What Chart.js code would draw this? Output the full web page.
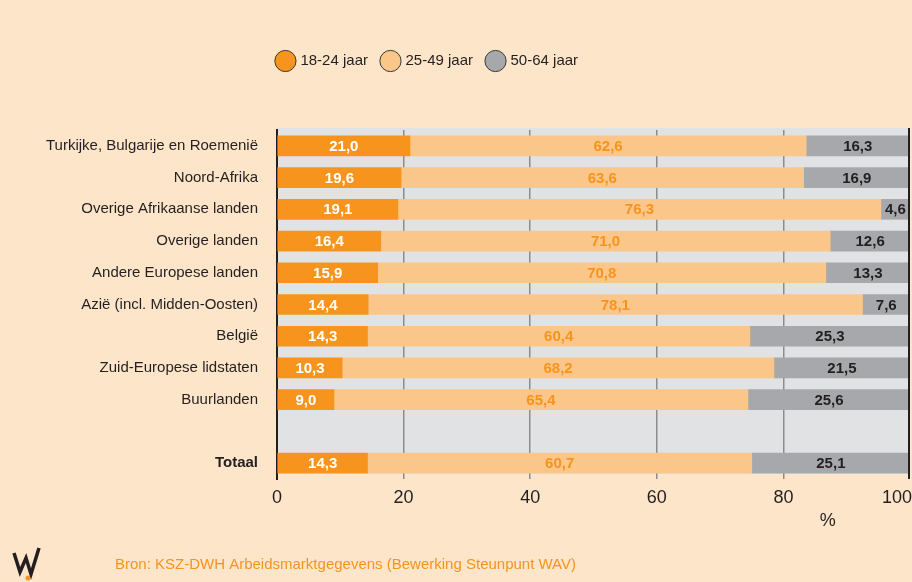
<!DOCTYPE html>
<html>
<head>
<meta charset="utf-8">
<script src="https://cdn.jsdelivr.net/npm/chart.js@4.4.1/dist/chart.umd.min.js"></script>
<style>
  html, body { margin: 0; padding: 0; background: #fde5ca; }
  #wrap { width: 912px; height: 582px; }
</style>
</head>
<body>
<div id="wrap"><canvas id="chart" width="912" height="582"></canvas></div>
<script>
// categories (empty slot before the total row)
const categories = [
    'Turkijke, Bulgarije en Roemenië',
    'Noord-Afrika',
    'Overige Afrikaanse landen',
    'Overige landen',
    'Andere Europese landen',
    'Azië (incl. Midden-Oosten)',
    'België',
    'Zuid-Europese lidstaten',
    'Buurlanden',
    '',
    'Totaal'
];
const seriesNames = ['18-24 jaar', '25-49 jaar', '50-64 jaar'];
const jong   = [21.0, 19.6, 19.1, 16.4, 15.9, 14.4, 14.3, 10.3, 9.0, null, 14.3];
const midden = [62.6, 63.6, 76.3, 71.0, 70.8, 78.1, 60.4, 68.2, 65.4, null, 60.7];
const oud    = [16.3, 16.9, 4.6, 12.6, 13.3, 7.6, 25.3, 21.5, 25.6, null, 25.1];
const xTicks = [0, 20, 40, 60, 80, 100];

const FONT = '"Liberation Sans", Arial, sans-serif';
const DARK = '#231f20';
const barColors = ['#f7941d', '#fbc68a', '#a6a8ab'];
const labelColors = ['#ffffff', '#f7941d', DARK];

// achtergrond + grijs plotvlak
const backgroundPlugin = {
    id: 'background',
    beforeDraw(chart) {
        const ctx = chart.ctx;
        const area = chart.chartArea;
        ctx.save();
        ctx.fillStyle = '#fde5ca';
        ctx.fillRect(0, 0, chart.width, chart.height);
        ctx.fillStyle = '#e1e2e4';
        ctx.fillRect(area.left, area.top - 2, area.right - area.left, area.bottom - area.top - 3);
        ctx.restore();
    }
};

// legende: vaste hoogte, positie bijsturen
const legendPlugin = {
    id: 'legendPos',
    beforeUpdate(chart) {
        const legend = chart.legend;
        if (legend && !legend._patched) {
            const fit = legend.fit;
            legend.fit = function() {
                fit.call(this);
                this.height = 130;
            };
            legend._patched = true;
        }
    },
    afterUpdate(chart) {
        const legend = chart.legend;
        legend.top = 38.5;
        legend.bottom = legend.top + 40;
        legend.left -= 27;
        legend.right -= 27;
    }
};

// waarden in de balken, "%" , bron en logo
const labelPlugin = {
    id: 'labels',
    afterDatasetsDraw(chart) {
        const ctx = chart.ctx;
        ctx.save();
        ctx.font = 'bold 15px ' + FONT;
        ctx.textAlign = 'center';
        ctx.textBaseline = 'middle';
        chart.data.datasets.forEach((ds, di) => {
            const meta = chart.getDatasetMeta(di);
            meta.data.forEach((bar, i) => {
                const v = ds.data[i];
                if (v === null) return;
                const right = Math.min(bar.x, chart.chartArea.right);
                ctx.fillStyle = labelColors[di];
                ctx.fillText(v.toFixed(1).replace('.', ','), (right + bar.base) / 2, bar.y + 1);
            });
        });
        ctx.restore();
    },
    afterDraw(chart) {
        const ctx = chart.ctx;
        const xs = chart.scales.x;
        ctx.save();
        // rechter rand bij 100
        ctx.strokeStyle = DARK;
        ctx.lineWidth = 2;
        ctx.beginPath();
        ctx.moveTo(xs.getPixelForValue(100) - 1, chart.chartArea.top - 2);
        ctx.lineTo(xs.getPixelForValue(100) - 1, chart.chartArea.bottom);
        ctx.stroke();

        ctx.fillStyle = DARK;
        ctx.font = '18px ' + FONT;
        ctx.textBaseline = 'middle';
        // laatste ticklabel rechts uitgelijnd
        ctx.textAlign = 'right';
        ctx.fillText(String(xTicks[xTicks.length - 1]), chart.width, 498);
        ctx.textAlign = 'center';
        ctx.fillText('%', xs.getPixelForValue(87), 521);

        ctx.fillStyle = '#f7941d';
        ctx.font = '15px ' + FONT;
        ctx.textAlign = 'left';
        ctx.fillText('Bron: KSZ-DWH Arbeidsmarktgegevens (Bewerking Steunpunt WAV)', 115, 565);

        // logo
        ctx.strokeStyle = DARK;
        ctx.lineWidth = 3.5;
        ctx.lineJoin = 'miter';
        ctx.beginPath();
        ctx.moveTo(14, 553);
        ctx.lineTo(20, 572);
        ctx.lineTo(26, 558);
        ctx.lineTo(31, 574);
        ctx.lineTo(39, 548);
        ctx.stroke();
        ctx.fillStyle = '#f7941d';
        ctx.beginPath();
        ctx.arc(28, 578, 2.5, 0, Math.PI * 2);
        ctx.fill();
        ctx.restore();
    }
};

const ctx = document.getElementById('chart').getContext('2d');
new Chart(ctx, {
    type: 'bar',
    data: {
        labels: categories,
        datasets: [jong, midden, oud].map((values, i) => ({
            label: seriesNames[i],
            data: values,
            backgroundColor: barColors[i],
            borderWidth: 0,
            barThickness: 20
        }))
    },
    options: {
        indexAxis: 'y',
        responsive: false,
        animation: false,
        layout: { padding: { top: 0, left: 0, right: 2, bottom: 0 } },
        plugins: {
            tooltip: { enabled: false },
            legend: {
                position: 'top',
                labels: {
                    usePointStyle: true,
                    pointStyle: 'circle',
                    boxWidth: 15,
                    boxHeight: 15,
                    padding: 15,
                    color: DARK,
                    font: { family: FONT, size: 15 },
                    generateLabels(chart) {
                        return Chart.defaults.plugins.legend.labels.generateLabels(chart).map(l => {
                            l.strokeStyle = '#3a3a3a';
                            l.lineWidth = 1;
                            return l;
                        });
                    }
                }
            }
        },
        scales: {
            x: {
                stacked: true,
                min: 0,
                max: 100,
                afterBuildTicks(scale) {
                    scale.ticks = xTicks.map(v => ({ value: v }));
                },
                afterFit(scale) {
                    scale.height = 103;
                    scale.paddingLeft = 0;
                    scale.paddingRight = 0;
                },
                border: { display: false },
                grid: {
                    drawTicks: false,
                    lineWidth: 1.5,
                    color: c => (c.tick && c.tick.value > 0 && c.tick.value < 100) ? '#8c8c8c' : 'rgba(0,0,0,0)'
                },
                ticks: {
                    padding: 8,
                    color: DARK,
                    font: { family: FONT, size: 18 },
                    callback: v => (v === 100 ? '' : v)
                }
            },
            y: {
                stacked: true,
                afterFit(scale) { scale.width = 277; },
                border: { display: true, color: DARK, width: 2 },
                grid: { display: false, drawTicks: false },
                ticks: {
                    padding: 19,
                    color: DARK,
                    font: c => ({ family: FONT, size: 15, weight: c.index === 10 ? 'bold' : 'normal' })
                }
            }
        }
    },
    plugins: [backgroundPlugin, legendPlugin, labelPlugin]
});
</script>
</body>
</html>
